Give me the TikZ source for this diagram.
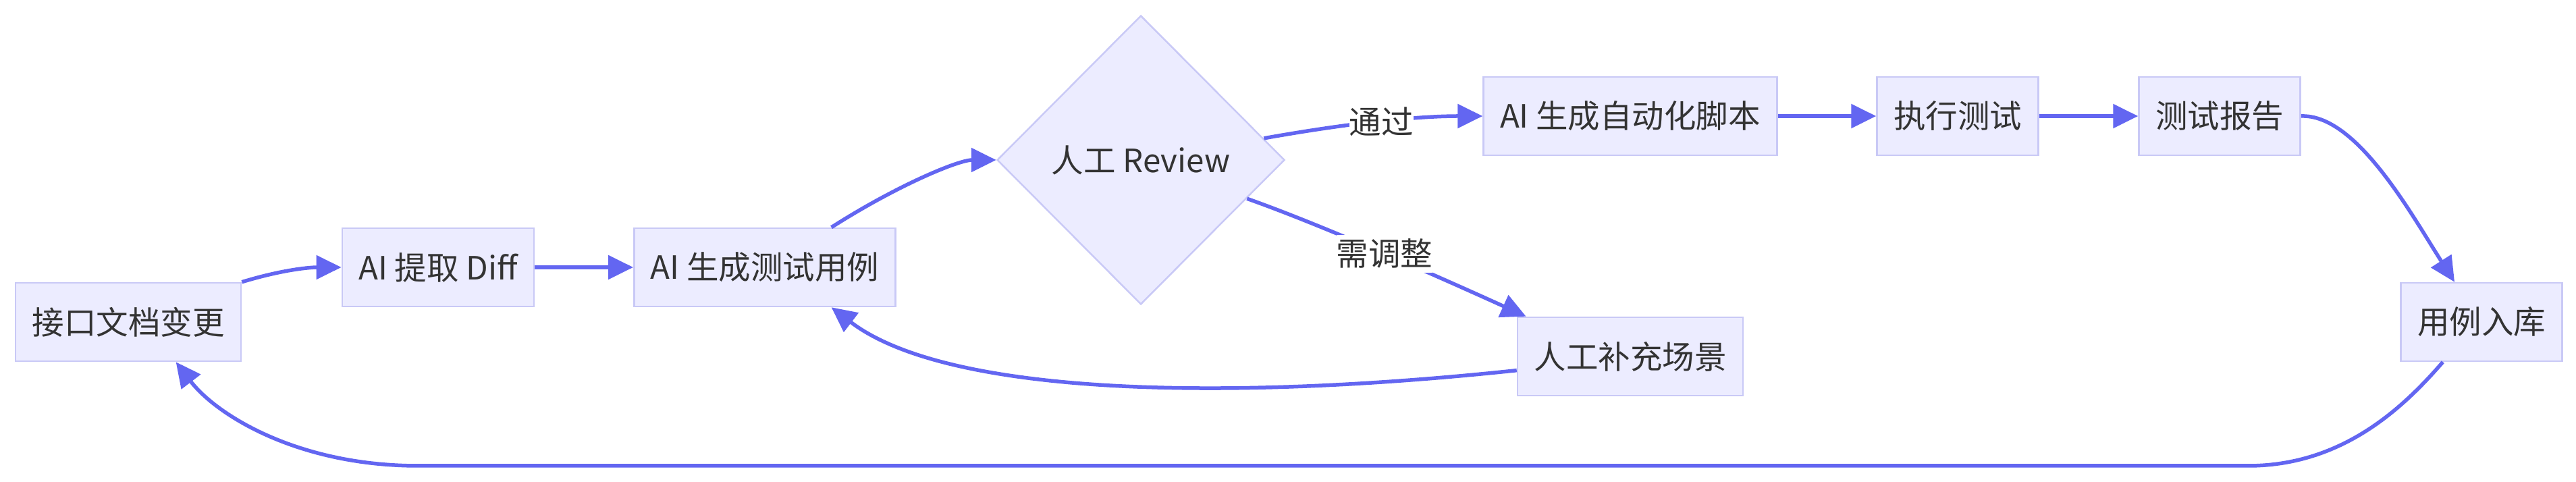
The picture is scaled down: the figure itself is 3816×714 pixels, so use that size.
\documentclass[tikz,border=0pt]{standalone}
\usepackage{fontspec}
\setmainfont{Noto Sans CJK SC}
\usepackage{tikz}
\usetikzlibrary{arrows.meta}
\usetikzlibrary{shapes.geometric}
\definecolor{boxfill}{HTML}{ECECFF}
\definecolor{boxline}{HTML}{C9C9F6}
\definecolor{flowline}{HTML}{6366F1}
\definecolor{txt}{HTML}{333333}
\tikzset{
  proc/.style={draw=boxline, fill=boxfill, line width=2.5pt,
    minimum height=116pt, inner xsep=24.5pt, inner ysep=0pt,
    text=txt, font=\fontsize{47.5}{57}\selectfont},
  check/.style={diamond, draw=boxline, fill=boxfill, line width=2.5pt,
    minimum width=426pt, minimum height=428pt, inner sep=0pt,
    text=txt, font=\fontsize{47.5}{57}\selectfont},
  flow/.style={draw=flowline, line width=5.5pt,
    -{Triangle[length=37pt,width=35pt]}},
  elabel/.style={fill=white, inner xsep=0pt, inner ysep=6pt,
    text=txt, font=\fontsize{47.5}{57}\selectfont}
}

\begin{document}
\begin{tikzpicture}[x=1pt,y=1pt]
\useasboundingbox (0,0) rectangle (3816,714);
\node[proc] (chg) at (190,237) {接口文档变更};
\node[proc] (diff) at (649,318) {AI 提取 Diff};
\node[proc] (gen) at (1133,318) {AI 生成测试用例};
\node[check] (rev) at (1690,477) {人工 Review};
\node[proc] (auto) at (2415,542) {AI 生成自动化脚本};
\node[proc] (run) at (2900,542) {执行测试};
\node[proc] (rpt) at (3288,542) {测试报告};
\node[proc] (lib) at (3676,237) {用例入库};
\node[proc] (man) at (2415,186) {人工补充场景};
\draw[flow] (chg.north east) .. controls (420,315) and (460,318) .. (diff.west);
\draw[flow] (diff.east) -- (gen.west);
\draw[flow] (gen.31) .. controls (1330,440) and (1420,477) .. (rev.west);
\draw[flow] (rev.10) .. controls (2000,532) and (2100,542) .. node[elabel]{通过} (auto.west);
\draw[flow] (rev.-20) .. controls (1960,380) and (2140,300) .. node[elabel]{需调整} (man.159);
\draw[flow] (auto.east) -- (run.west);
\draw[flow] (run.east) -- (rpt.west);
\draw[flow] (rpt.east) .. controls (3490,545) and (3570,400) .. (lib.124);
\draw[flow] (lib.226) .. controls (3560,110) and (3470,24) .. (3330,24)
  -- (620,24) .. controls (440,24) and (320,100) .. (chg.-40);
\draw[flow] (man.187) .. controls (1800,118) and (1400,130) .. (gen.-31);
\end{tikzpicture}
\end{document}
